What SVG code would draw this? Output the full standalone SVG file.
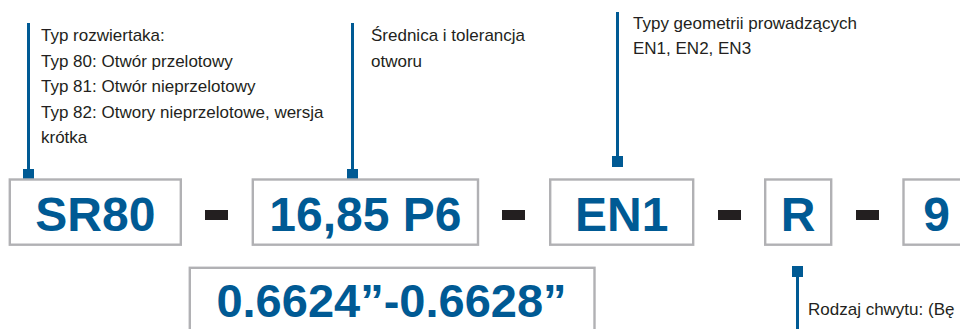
<svg xmlns="http://www.w3.org/2000/svg" width="960" height="329" viewBox="0 0 960 329">
<style>
.box{fill:#fff;stroke:#b1b1b4;stroke-width:2.4}
.code{font-family:"Liberation Sans",Arial,sans-serif;font-weight:bold;font-size:48px;fill:#005a94;text-anchor:middle}
.lbl{font-family:"Liberation Sans",Arial,sans-serif;font-size:17px;fill:#231f20}
.lead{stroke:#005a94;stroke-width:3;fill:none}
.mk{fill:#005a94}
.dash{fill:#231f20}
</style>
<rect width="960" height="329" fill="#fff"/>
<g id="connectors">
<line class="lead" x1="28.5" y1="23" x2="28.5" y2="170"/>
<rect class="mk" x="23" y="169" width="11" height="11"/>
<line class="lead" x1="352.5" y1="23" x2="352.5" y2="170"/>
<rect class="mk" x="347" y="169" width="11" height="11"/>
<line class="lead" x1="617.5" y1="12" x2="617.5" y2="157"/>
<rect class="mk" x="612" y="156" width="11" height="11"/>
<line class="lead" x1="797.5" y1="276" x2="797.5" y2="329"/>
<rect class="mk" x="792" y="266" width="11" height="11"/>
</g>
<g id="label-typ">
<text class="lbl" x="41" y="41">Typ rozwiertaka:</text>
<text class="lbl" x="41" y="66.6">Typ 80: Otwór przelotowy</text>
<text class="lbl" x="41" y="92.2">Typ 81: Otwór nieprzelotowy</text>
<text class="lbl" x="41" y="117.8">Typ 82: Otwory nieprzelotowe, wersja</text>
<text class="lbl" x="41" y="143.4">krótka</text>
</g>
<g id="label-srednica">
<text class="lbl" x="371" y="41">Średnica i tolerancja</text>
<text class="lbl" x="371" y="66.6">otworu</text>
</g>
<g id="label-geometria">
<text class="lbl" x="633" y="28.5">Typy geometrii prowadzących</text>
<text class="lbl" x="633" y="54.1">EN1, EN2, EN3</text>
</g>
<g id="label-chwyt">
<text class="lbl" x="808" y="315">Rodzaj chwytu: (Bę</text>
</g>
<g id="node-sr80">
<rect class="box" x="9.8" y="179.5" width="171" height="65.2"/>
<text class="code" x="95.3" y="231">SR80</text>
</g>
<g id="dash1"><rect class="dash" x="205" y="210" width="23" height="10"/></g>
<g id="node-diameter">
<rect class="box" x="252.8" y="179.5" width="225.2" height="65.2"/>
<text class="code" x="365.4" y="231">16,85 P6</text>
</g>
<g id="dash2"><rect class="dash" x="502" y="210" width="23" height="10"/></g>
<g id="node-en1">
<rect class="box" x="550.2" y="179.5" width="143" height="65.2"/>
<text class="code" x="621.7" y="231">EN1</text>
</g>
<g id="dash3"><rect class="dash" x="718" y="210" width="23" height="10"/></g>
<g id="node-r">
<rect class="box" x="765.2" y="179.5" width="66" height="65.2"/>
<text class="code" x="798.2" y="231">R</text>
</g>
<g id="dash4"><rect class="dash" x="856" y="210" width="23" height="10"/></g>
<g id="node-9">
<rect class="box" x="903.5" y="179.5" width="66" height="65.2"/>
<text class="code" x="936.5" y="231">9</text>
</g>
<g id="node-inch">
<rect class="box" x="189.8" y="267.8" width="404.7" height="80"/>
<text class="code" x="391.5" y="317" style="font-size:47px">0.6624”-0.6628”</text>
</g>
</svg>
